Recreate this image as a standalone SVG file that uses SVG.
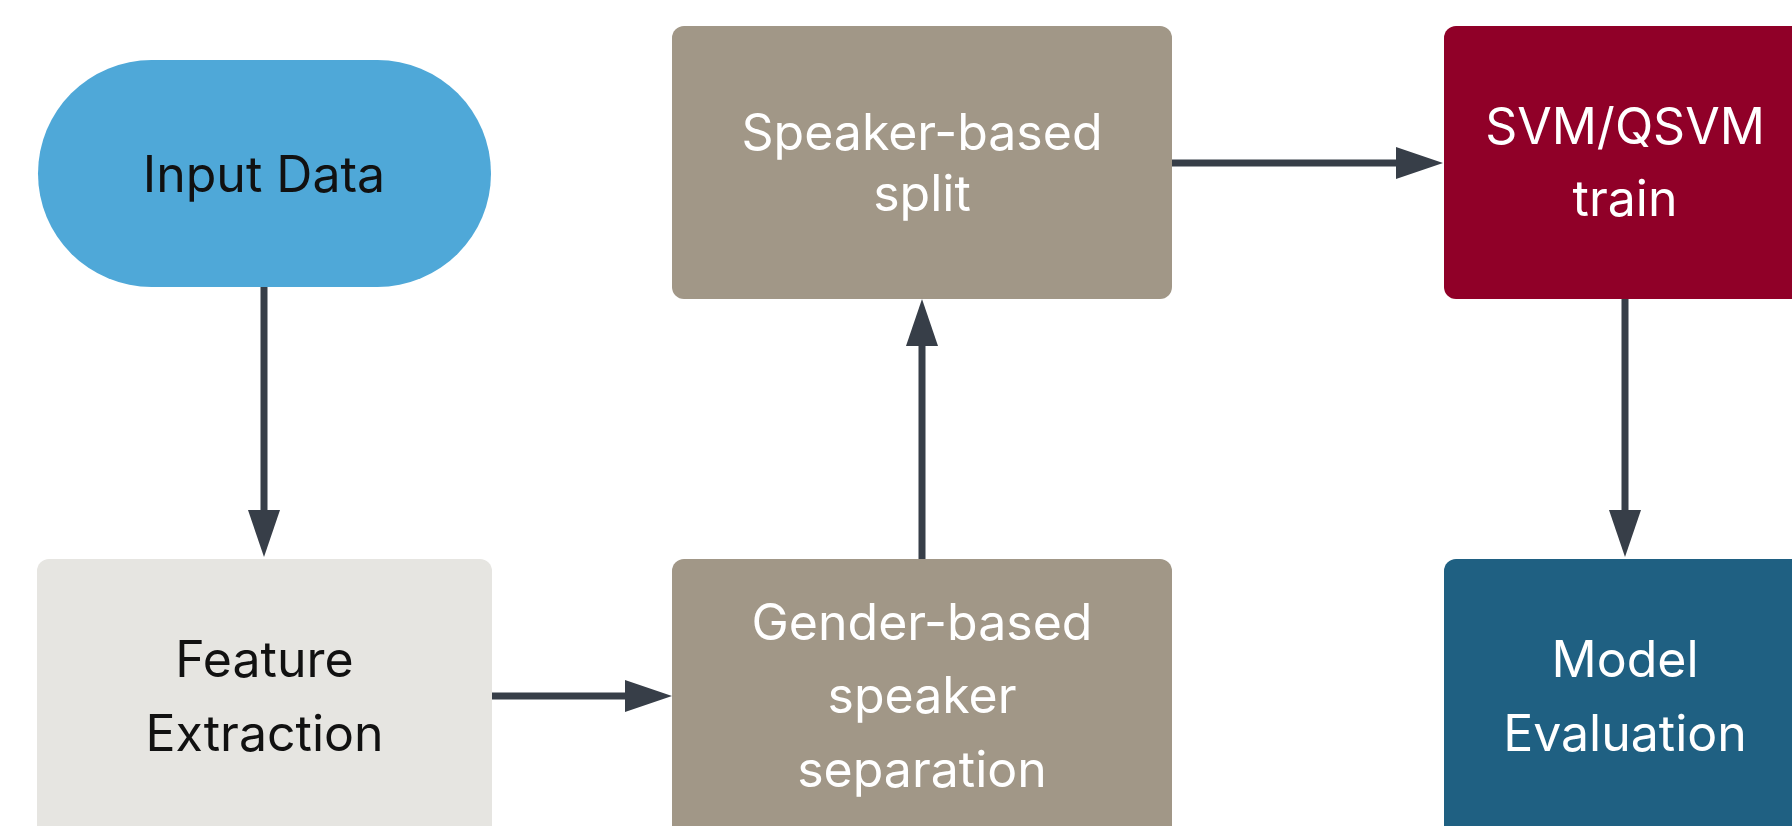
<svg xmlns="http://www.w3.org/2000/svg" width="1792" height="826" viewBox="0 0 1792 826">
<defs>
<style>
.lbl{font-family:Inter,"Noto Sans","Liberation Sans",sans-serif;font-size:50px;text-anchor:middle}
.dark{fill:#111111}
.light{fill:#ffffff}
.edge{fill:none;stroke:#373e48;stroke-width:7}
</style>
<marker id="ah" viewBox="0 0 47 32" refX="2" refY="16" markerWidth="47" markerHeight="32" markerUnits="userSpaceOnUse" orient="auto">
<path d="M0,0 L47,16 L0,32 z" fill="#373e48"/>
</marker>
</defs>
<rect width="1792" height="826" fill="#ffffff"/>
<g id="connectors">
<path class="edge" d="M264,287 L264,512" marker-end="url(#ah)"/>
<path class="edge" d="M492,696 L627,696" marker-end="url(#ah)"/>
<path class="edge" d="M922,559 L922,344" marker-end="url(#ah)"/>
<path class="edge" d="M1172,163 L1398,163" marker-end="url(#ah)"/>
<path class="edge" d="M1625,299 L1625,512" marker-end="url(#ah)"/>
</g>
<g id="input-data">
<rect x="38" y="60" width="453" height="227" rx="113.5" fill="#4fa8d8"/>
<text class="lbl dark" x="264" y="192">Input Data</text>
</g>
<g id="feature-extraction">
<rect x="37" y="559" width="455" height="290" rx="12" fill="#e6e5e1"/>
<text class="lbl dark" x="264.5" y="677">Feature</text>
<text class="lbl dark" x="264.5" y="751">Extraction</text>
</g>
<g id="speaker-split">
<rect x="672" y="26" width="500" height="273" rx="12" fill="#a19787"/>
<text class="lbl light" x="922" y="150">Speaker-based</text>
<text class="lbl light" x="922" y="211">split</text>
</g>
<g id="gender-separation">
<rect x="672" y="559" width="500" height="290" rx="12" fill="#a19787"/>
<text class="lbl light" x="922" y="640">Gender-based</text>
<text class="lbl light" x="922" y="713">speaker</text>
<text class="lbl light" x="922" y="787">separation</text>
</g>
<g id="svm-train">
<rect x="1444" y="26" width="380" height="273" rx="12" fill="#900028"/>
<text class="lbl light" x="1625" y="144">SVM/QSVM</text>
<text class="lbl light" x="1625" y="216">train</text>
</g>
<g id="model-evaluation">
<rect x="1444" y="559" width="380" height="290" rx="12" fill="#1f6082"/>
<text class="lbl light" x="1625" y="677">Model</text>
<text class="lbl light" x="1625" y="751">Evaluation</text>
</g>
</svg>
